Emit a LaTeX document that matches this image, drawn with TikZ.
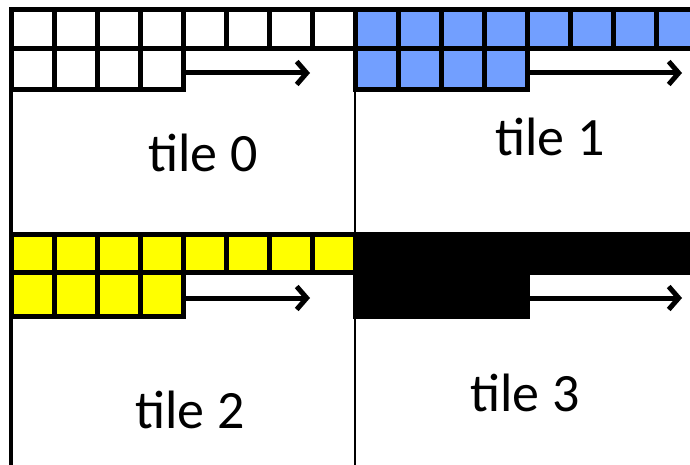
\documentclass[tikz,border=0pt]{standalone}
\usepackage{fontspec}
\setmainfont{Carlito}
\usepackage{tikz}
\usetikzlibrary{arrows.meta}
\definecolor{TILEblue}{HTML}{729FFF}
\definecolor{TILEyellow}{HTML}{FFFF00}

\begin{document}
\begin{tikzpicture}[x=1pt,y=-1pt,
    cell/.style={draw=black,line width=5pt},
    flow/.style={line width=5pt,-{Straight Barb[length=10pt,width=23pt]}},
    lbl/.style={font=\fontsize{54}{64}\selectfont}]
  \useasboundingbox (0,0) rectangle (690,465);
  \clip (0,0) rectangle (690,465);

  % tile borders
  \draw[line width=2pt] (355,90) -- (355,465);
  \draw[line width=4pt] (11,10) -- (11,465);

  % tile 0 (white) and tile 1 (blue)
  \foreach \ox/\col in {11/white,355/TILEblue} {
    \foreach \i in {0,...,7}
      \draw[cell,fill=\col] (\ox+\i*43,10) rectangle +(43,38.5);
    \foreach \i in {0,...,3}
      \draw[cell,fill=\col] (\ox+\i*43,48.5) rectangle +(43,41.5);
  }

  % tile 2 (yellow) and tile 3 (black)
  \foreach \ox/\col in {11/TILEyellow,355/black} {
    \foreach \i in {0,...,7}
      \draw[cell,fill=\col] (\ox+\i*43,234) rectangle +(43,38);
    \foreach \i in {0,...,3}
      \draw[cell,fill=\col] (\ox+\i*43,272) rectangle +(43,44);
  }

  % sweep arrows
  \coordinate (a0s) at (183,73);  \coordinate (a0e) at (310,73);
  \coordinate (a1s) at (527,73);  \coordinate (a1e) at (682,73);
  \coordinate (a2s) at (183,298); \coordinate (a2e) at (310,298);
  \coordinate (a3s) at (527,298); \coordinate (a3e) at (682,298);
  \draw[flow] (a0s) -- (a0e);
  \draw[flow] (a1s) -- (a1e);
  \draw[flow] (a2s) -- (a2e);
  \draw[flow] (a3s) -- (a3e);

  % labels
  \node[lbl] (t0) at (203,153) {tile 0};
  \node[lbl] (t1) at (550,137) {tile 1};
  \node[lbl] (t2) at (190,410) {tile 2};
  \node[lbl] (t3) at (525,393) {tile 3};
\end{tikzpicture}
\end{document}
